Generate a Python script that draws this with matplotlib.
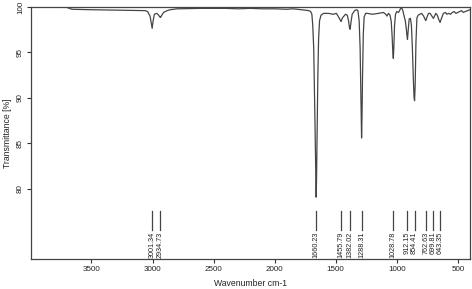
import matplotlib
matplotlib.use("Agg")
import matplotlib.pyplot as plt

plt.rcParams['font.family'] = ['Liberation Sans', 'DejaVu Sans']

# Spectrum (wavenumber cm-1, transmittance %)
wavenumber = [3990, 3800, 3700, 3660, 3500, 3300, 3100, 3060, 3040, 3020, 3010, 3003, 2996,
              2985, 2965, 2950, 2940, 2935, 2928, 2910, 2880, 2855, 2800, 2600, 2400,
              2300, 2200, 2100, 2000, 1900, 1850, 1780, 1720, 1705, 1695, 1688, 1680,
              1674, 1668, 1663, 1660, 1657, 1652, 1646, 1640, 1632, 1620, 1600, 1560,
              1520, 1495, 1480, 1468, 1456, 1445, 1420, 1405, 1395, 1388, 1382, 1375,
              1365, 1345, 1328, 1318, 1308, 1300, 1295, 1291, 1288, 1285, 1280, 1274,
              1267, 1255, 1240, 1200, 1150, 1110, 1090, 1080, 1068, 1055, 1045, 1038,
              1032, 1028, 1024, 1018, 1010, 1000, 985, 970, 962, 950, 940, 930, 922,
              916, 912, 906, 898, 888, 880, 872, 864, 858, 854, 849, 843, 835, 825, 810,
              796, 780, 770, 762, 752, 740, 727, 712, 700, 690, 680, 668, 655, 645, 635,
              618, 600, 590, 575, 560, 545, 530, 515, 500, 485, 470, 455, 440, 420, 400]
transmittance = [99.97, 99.97, 99.95, 99.75, 99.7, 99.65, 99.6, 99.6, 99.5, 99.0, 98.2, 97.65,
                 98.4, 99.2, 99.3, 99.1, 98.9, 98.85, 99.0, 99.4, 99.6, 99.7, 99.8, 99.85,
                 99.85, 99.8, 99.85, 99.8, 99.8, 99.75, 99.8, 99.7, 99.6, 99.5, 99.2, 98.0,
                 95.5, 91.0, 86.0, 81.5, 79.1, 81.0, 86.0, 92.5, 96.5, 98.5, 99.1, 99.3,
                 99.3, 99.2, 99.3, 99.0, 98.7, 98.4, 98.8, 99.2, 99.1, 98.5, 97.8, 97.55,
                 98.3, 99.2, 99.6, 99.7, 99.6, 98.5, 95.5, 91.5, 88.0, 85.6, 87.5, 92.5,
                 97.0, 98.9, 99.3, 99.3, 99.2, 99.3, 99.4, 99.2, 99.0, 99.3, 99.1, 98.4,
                 96.8, 95.0, 94.35, 95.5, 98.0, 99.2, 99.5, 99.4, 99.8, 100.0, 99.6, 99.0,
                 98.5, 97.6, 96.8, 96.45, 97.5, 98.7, 98.75, 98.0, 95.5, 92.0, 90.0, 89.7,
                 91.5, 96.0, 98.8, 99.1, 99.2, 99.3, 99.0, 98.7, 98.5, 98.9, 99.3, 99.3,
                 99.0, 98.75, 99.0, 99.3, 99.1, 98.6, 98.3, 98.7, 99.3, 99.4, 99.2, 99.3,
                 99.2, 99.4, 99.5, 99.3, 99.4, 99.5, 99.6, 99.4, 99.5, 99.6, 99.7]

peak_positions = [3001.34, 2934.73, 1660.23, 1455.79, 1382.02, 1288.31, 1028.78,
                  912.15, 854.41, 762.63, 699.81, 643.35]
peak_labels = ["3001.34", "2934.73", "1660.23", "1455.79", "1382.02", "1288.31",
               "1028.78", "912.15", "854.41", "762.63", "699.81", "643.35"]

x_ticks = [3500, 3000, 2500, 2000, 1500, 1000, 500]
y_ticks = [80, 85, 90, 95, 100]

fig = plt.figure(figsize=(4.72, 2.89), dpi=100)
ax = fig.add_axes([0.0657, 0.1038, 0.9301, 0.872])

line_col = '#454545'
ax.plot(wavenumber, transmittance, color=line_col, lw=0.9)

for pos, lab in zip(peak_positions, peak_labels):
    ax.plot([pos, pos], [75.5, 77.6], color=line_col, lw=0.9)
    ax.text(pos, 75.3, lab, rotation=90, ha='center', va='top', fontsize=5.2,
            color='#222222')

ax.set_xlim(3995, 400)
ax.set_ylim(72.3, 100)
ax.set_xticks(x_ticks)
ax.set_yticks(y_ticks)
ax.set_xticklabels([str(v) for v in x_ticks], fontsize=5.8)
ax.set_yticklabels([str(v) for v in y_ticks], fontsize=5.8, rotation=90, va='center')
ax.tick_params(direction='out', length=3, width=0.8, color='#333333', pad=2,
               labelcolor='#222222')
for s in ax.spines.values():
    s.set_color('#444444')
    s.set_linewidth(0.9)

ax.set_xlabel("Wavenumber cm-1", fontsize=6.2, color='#222222', labelpad=4)
ax.set_ylabel("Transmittance [%]", fontsize=6.2, color='#222222', labelpad=4)

fig.savefig("out.png", dpi=100)
